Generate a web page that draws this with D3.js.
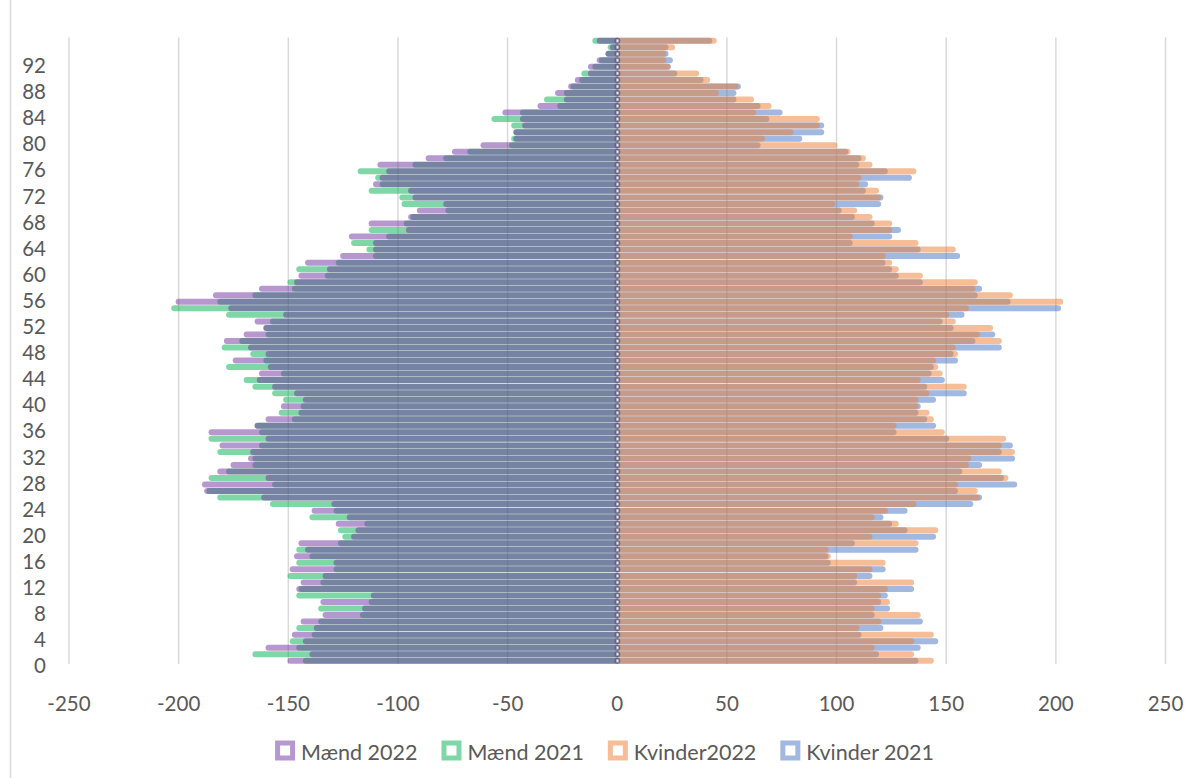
<!DOCTYPE html>
<html>
<head>
<meta charset="utf-8">
<script src="https://cdn.jsdelivr.net/npm/d3@7"></script>
<style>
  body { margin: 0; background: #fff; }
  text { font-family: Lato, 'Open Sans', sans-serif; fill: #595959; }
</style>
</head>
<body>
<div id="container"></div>
<script>
const w = 1186;
const h = 778;

// ages 0..95, values (men negative side, women positive)
const ages = d3.range(0, 96);
const maend2022 = [149,139,159,142,147,137,143,133,115,134,111,145,143,133,148,128,146,141,144,120,
  118,127,122,138,129,161,187,188,159,181,175,167,166,180,159,185,164,159,144,152,
  142,146,156,163,162,158,174,159,167,178,169,160,164,151,176,200,183,162,146,144,
  131,141,125,110,110,121,95,112,94,90,78,92,94,110,107,104,108,86,74,61,
  46,46,42,43,51,35,23,27,21,18,12,12,8,4,2,8];
const maend2021 = [142,165,145,148,138,145,135,116,135,112,145,144,134,149,128,145,139,145,126,124,
  126,114,139,128,157,181,186,156,185,177,165,165,181,162,185,162,164,147,153,143,
  151,156,165,169,152,177,160,166,179,171,159,160,157,177,202,181,165,147,149,132,
  145,127,110,113,120,104,112,96,93,77,97,98,112,107,109,117,92,78,67,48,
  47,46,47,56,43,26,32,23,20,16,15,10,7,4,3,10];
const kvinder2022 = [143,134,116,134,143,109,119,137,116,123,119,122,134,108,115,121,96,95,136,115,
  145,127,116,122,135,164,163,154,177,174,159,160,180,174,176,148,126,143,141,136,
  136,141,158,137,147,145,144,154,153,174,164,170,153,150,159,202,179,162,163,138,
  127,124,121,153,136,106,124,124,115,108,98,119,118,109,110,135,115,112,105,99,
  66,79,91,91,62,69,61,45,54,41,36,23,21,21,25,44];
const kvinder2021 = [136,118,137,145,110,120,138,116,123,119,122,134,108,115,121,96,95,136,107,144,
  131,124,120,131,161,165,154,181,175,156,165,180,174,179,150,126,144,140,136,137,
  144,158,140,148,142,143,154,152,174,162,171,152,147,157,201,178,163,165,138,127,
  124,121,155,137,106,124,128,116,107,101,119,120,112,113,133,122,109,110,104,64,
  83,93,93,68,74,64,53,53,55,38,26,23,24,22,22,42];

const xTicks = [-250, -200, -150, -100, -50, 0, 50, 100, 150, 200, 250];
const yTicks = d3.range(0, 93, 4);

const series = [
  { name: 'Mænd 2022', color: '#7030A0', values: maend2022, sign: -1 },
  { name: 'Mænd 2021', color: '#00B050', values: maend2021, sign: -1 },
  { name: 'Kvinder2022', color: '#ED7D31', values: kvinder2022, sign: 1 },
  { name: 'Kvinder 2021', color: '#4472C4', values: kvinder2021, sign: 1 }
];
// 2021 underneath, 2022 on top
const drawOrder = [series[3], series[2], series[1], series[0]];

const svg = d3.select('#container')
  .append('svg')
    .attr('width', w)
    .attr('height', h)
    .attr('viewBox', [0, 0, w, h]);

const x = d3.scaleLinear()
  .domain([-250, 250])
  .range([69, 1165.5]);

const y = d3.scaleLinear()
  .domain([0, 96])
  .range([664, 37.5]);

// chart frame edge
svg.append('line')
  .attr('x1', 10.5).attr('x2', 10.5)
  .attr('y1', 0).attr('y2', h)
  .attr('stroke', '#d9d9d9')
  .attr('stroke-width', 1.5);

svg.append('g')
  .selectAll('line')
  .data(xTicks)
  .join('line')
    .attr('x1', d => x(d))
    .attr('x2', d => x(d))
    .attr('y1', y(96))
    .attr('y2', y(0))
    .attr('stroke', '#d9d9d9')
    .attr('stroke-width', 1.5);

drawOrder.forEach(s => {
  svg.append('g')
    .selectAll('line')
    .data(ages)
    .join('line')
      .attr('x1', x(0))
      .attr('x2', d => x(s.sign * s.values[d]))
      .attr('y1', d => y(d + 0.5))
      .attr('y2', d => y(d + 0.5))
      .attr('stroke', s.color)
      .attr('stroke-opacity', 0.5)
      .attr('stroke-width', 6)
      .attr('stroke-linecap', 'round');
});

// point markers sitting on the zero line
drawOrder.forEach(s => {
  svg.append('g')
    .selectAll('rect')
    .data(ages)
    .join('rect')
      .attr('x', x(0) - 1)
      .attr('y', d => y(d + 0.5) - 1.5)
      .attr('width', 2.5)
      .attr('height', 3)
      .attr('fill', '#eee')
      .attr('stroke', s.color)
      .attr('stroke-opacity', 0.5)
      .attr('stroke-width', 0.8);
});

svg.append('g')
  .selectAll('text')
  .data(yTicks)
  .join('text')
    .attr('x', 46)
    .attr('y', d => y(d) + 9.4)
    .attr('text-anchor', 'end')
    .style('font-size', '20.5px')
    .text(d => d);

svg.append('g')
  .selectAll('text')
  .data(xTicks)
  .join('text')
    .attr('x', d => x(d))
    .attr('y', 710.5)
    .attr('text-anchor', 'middle')
    .style('font-size', '20.5px')
    .text(d => d < 0 ? '-' + Math.abs(d) : d);

const legend = svg.append('g')
  .attr('id', 'legend');

const items = legend.selectAll('g')
  .data(series)
  .join('g');

items.append('rect')
  .attr('x', 2.5)
  .attr('y', 743)
  .attr('width', 15)
  .attr('height', 15)
  .attr('fill', '#fff')
  .attr('stroke', d => d.color)
  .attr('stroke-opacity', 0.5)
  .attr('stroke-width', 5);

items.append('text')
  .attr('x', 26)
  .attr('y', 759.5)
  .style('font-size', '21.5px')
  .text(d => d.name);

const widths = [];
items.selectAll('text').each(function() { widths.push(26 + this.getComputedTextLength()); });
const gap = 24;
const total = d3.sum(widths) + gap * (widths.length - 1);
let cx = 604.5 - total / 2;
items.attr('transform', (d, i) => {
  const t = 'translate(' + cx + ',0)';
  cx += widths[i] + gap;
  return t;
});
</script>
</body>
</html>
